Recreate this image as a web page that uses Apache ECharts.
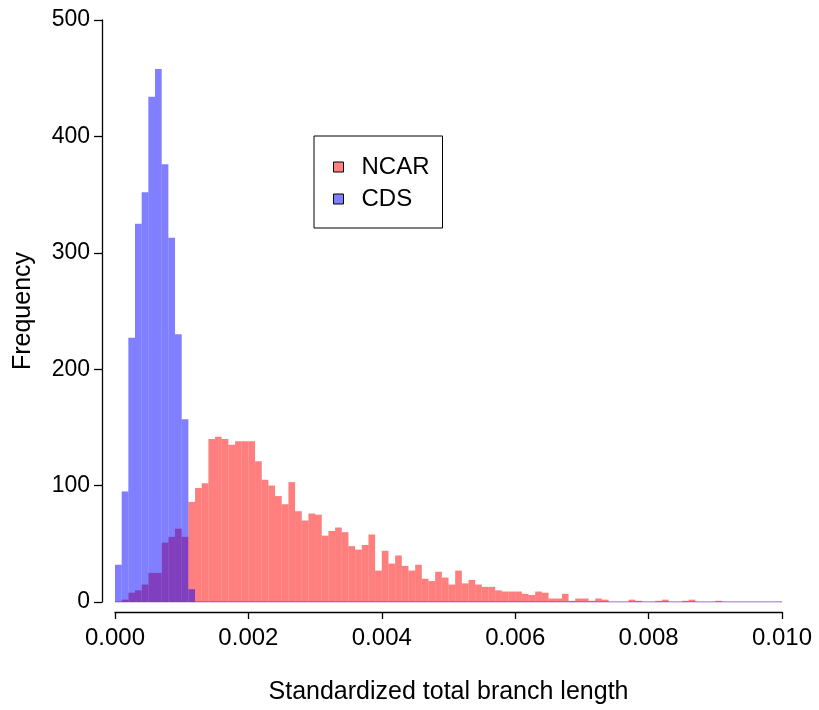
<!DOCTYPE html>
<html>
<head>
<meta charset="utf-8">
<script src="https://cdn.jsdelivr.net/npm/echarts@6/dist/echarts.min.js"></script>
<style>
html, body { margin: 0; padding: 0; background: #fff; }
#chart { width: 819px; height: 710px; }
</style>
</head>
<body>
<div id="chart"></div>
<script>
// histogram bins: width 0.0001, starting at 0
var binWidth = 0.0001;
var seriesNames = ['NCAR', 'CDS'];
var ncarCounts = [
    0, 2, 8, 10, 15, 25, 25, 51, 56, 63,
    56, 86, 98, 102, 140, 142, 140, 135, 138, 138,
    138, 121, 105, 100, 91, 84, 103, 78, 70, 76,
    75, 57, 61, 64, 60, 48, 45, 49, 58, 27,
    44, 33, 40, 31, 27, 32, 20, 18, 26, 21,
    15, 27, 16, 19, 15, 13, 13, 10, 9, 9,
    9, 7, 6, 9, 8, 3, 3, 7, 1, 3,
    3, 1, 3, 2, 0, 0, 0, 2, 1, 0,
    0, 1, 2, 0, 0, 1, 2, 0, 0, 0,
    1, 0, 0, 0, 0, 0, 0, 0, 0, 0
];
var cdsCounts = [32, 95, 227, 325, 352, 434, 458, 376, 313, 230, 157, 11];
var xTicks = [0, 0.002, 0.004, 0.006, 0.008, 0.010];
var yTicks = [0, 100, 200, 300, 400, 500];

var fontFam = '"Liberation Sans", Arial, Helvetica, sans-serif';

function toBins(counts){
    var out = [];
    for(var i=0;i<counts.length;i++){
        out.push([i*binWidth, (i+1)*binWidth, counts[i]]);
    }
    return out;
}

function histRender(fill){
    return function(params, api){
        var x0 = api.value(0), x1 = api.value(1), v = api.value(2);
        if(!v) return null;
        var p0 = api.coord([x0, v]);
        var p1 = api.coord([x1, 0]);
        return {
            type: 'rect',
            shape: {x: p0[0], y: p0[1], width: p1[0]-p0[0], height: p1[1]-p0[1]},
            style: {fill: fill}
        };
    };
}

var myChart = echarts.init(document.getElementById('chart'));
var option = {
    animation: false,
    backgroundColor: '#fff',
    textStyle: {fontFamily: fontFam, color: '#000'},
    grid: {left: 115, right: 37, top: 20, bottom: 107, containLabel: false},
    legend: {
        orient: 'vertical',
        left: 314,
        top: 136,
        padding: [19, 13, 17, 19],
        itemWidth: 10,
        itemHeight: 10,
        itemGap: 8,
        borderColor: '#000',
        borderWidth: 1,
        icon: 'rect',
        textStyle: {fontSize: 24, color: '#000', fontFamily: fontFam, padding: [0, 0, 0, 13]},
        data: [
            {name: seriesNames[0], itemStyle: {color: '#ff8080', borderColor: '#000', borderWidth: 1}},
            {name: seriesNames[1], itemStyle: {color: '#8080ff', borderColor: '#000', borderWidth: 1}}
        ]
    },
    xAxis: {
        type: 'value',
        min: xTicks[0],
        max: xTicks[xTicks.length-1],
        interval: 0.002,
        offset: 10,
        name: 'Standardized total branch length',
        nameLocation: 'middle',
        nameGap: 68,
        nameTextStyle: {fontSize: 25, color: '#000', fontFamily: fontFam},
        axisLine: {show: true, onZero: false, lineStyle: {color: '#000', width: 1.3}},
        axisTick: {show: true, length: 7, lineStyle: {color: '#000', width: 1.3}},
        axisLabel: {fontSize: 24, color: '#000', margin: 14, fontFamily: fontFam,
            formatter: function(v){ return v.toFixed(3); }},
        splitLine: {show: false}
    },
    yAxis: {
        type: 'value',
        min: yTicks[0],
        max: yTicks[yTicks.length-1],
        interval: 100,
        offset: 13,
        name: 'Frequency',
        nameLocation: 'middle',
        nameGap: 66,
        nameRotate: 90,
        nameTextStyle: {fontSize: 25, color: '#000', fontFamily: fontFam},
        axisLine: {show: true, onZero: false, lineStyle: {color: '#000', width: 1.3}},
        axisTick: {show: true, length: 8, lineStyle: {color: '#000', width: 1.3}},
        axisLabel: {fontSize: 23, color: '#000', margin: 12, fontFamily: fontFam},
        splitLine: {show: false}
    },
    series: [
        {
            name: seriesNames[0],
            type: 'custom',
            itemStyle: {color: 'rgba(255,0,0,0.5)'},
            renderItem: histRender('rgba(255,0,0,0.5)'),
            encode: {x: [0, 1], y: 2},
            data: toBins(ncarCounts)
        },
        {
            name: seriesNames[1],
            type: 'custom',
            itemStyle: {color: 'rgba(0,0,255,0.5)'},
            renderItem: histRender('rgba(0,0,255,0.5)'),
            encode: {x: [0, 1], y: 2},
            data: toBins(cdsCounts)
        },
        {
            // zero baseline drawn by the empty bins
            type: 'line',
            symbol: 'none',
            silent: true,
            lineStyle: {color: '#7f40bf', width: 1},
            data: [[xTicks[0], 0], [xTicks[xTicks.length-1], 0]]
        }
    ]
};
myChart.setOption(option);
</script>
</body>
</html>
